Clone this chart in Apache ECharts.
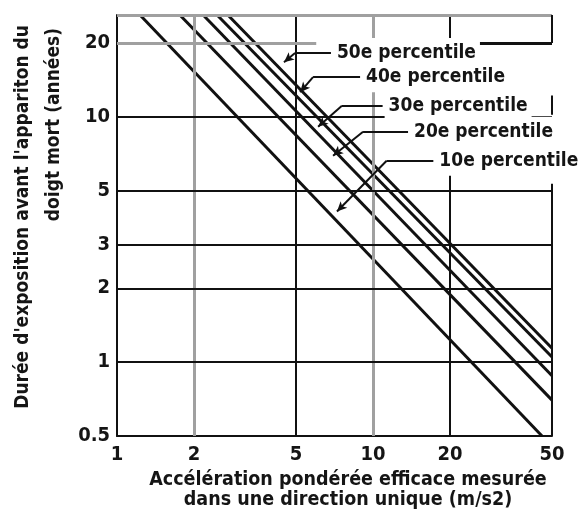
<!DOCTYPE html>
<html>
<head>
<meta charset="utf-8">
<script src="https://cdn.jsdelivr.net/npm/echarts@6/dist/echarts.min.js"></script>
<style>
  html, body { margin: 0; padding: 0; background: #fff; }
  #chart { width: 578px; height: 514px; }
</style>
</head>
<body>
<div id="chart"></div>
<script>
const FONT = '"DejaVu Sans Condensed", "Liberation Sans Narrow", "Arial Narrow", sans-serif';

// axes (log-log)
const xTicks = [1, 2, 5, 10, 20, 50];
const yTicks = [0.5, 1, 2, 3, 5, 10, 20];
const xRange = [1, 50];
const yRange = [0.5, 26];

// percentile lines: [acceleration, years] at both ends
const percentiles = ['10e percentile', '20e percentile', '30e percentile', '40e percentile', '50e percentile'];
const p10 = [[1.23, 26], [45.7, 0.5]];
const p20 = [[1.76, 26], [50, 0.70]];
const p30 = [[2.17, 26], [50, 0.88]];
const p40 = [[2.46, 26], [50, 1.05]];
const p50 = [[2.71, 26], [50, 1.14]];

// leader lines: arrow tip, elbow, label start (data coords)
const leaders = [
    { text: '10e percentile', tip: [7.23, 4.11], elbow: [11.3, 6.62], end: 17.2 },
    { text: '20e percentile', tip: [6.98, 6.94], elbow: [9.14, 8.69], end: 13.7 },
    { text: '30e percentile', tip: [6.10, 9.1], elbow: [7.56, 11.1], end: 10.9 },
    { text: '40e percentile', tip: [5.19, 12.6], elbow: [5.83, 14.5], end: 8.9 },
    { text: '50e percentile', tip: [4.49, 16.7], elbow: [4.96, 18.2], end: 6.85 }
];

const chart = echarts.init(document.getElementById('chart'));

const black = '#111';
const gray = '#a0a0a0';

function solid(color, width) {
    return { color: color, width: width, type: 'solid' };
}

const gridLines = [
    { xAxis: 2, lineStyle: solid(gray, 3) },
    { xAxis: 5, lineStyle: solid(black, 2) },
    { xAxis: 10, lineStyle: solid(gray, 3) },
    { xAxis: 20, lineStyle: solid(black, 2) },
    { yAxis: 1, lineStyle: solid(black, 2) },
    { yAxis: 2, lineStyle: solid(black, 2) },
    { yAxis: 3, lineStyle: solid(black, 2) },
    { yAxis: 5, lineStyle: solid(black, 2) },
    { yAxis: 10, lineStyle: solid(black, 2) },
    { yAxis: 26, lineStyle: solid(gray, 3) },
    [{ coord: [1, 20], lineStyle: solid(gray, 3) }, { coord: [6, 20] }],
    [{ coord: [25.7, 20], lineStyle: solid(black, 3) }, { coord: [50, 20] }],
    [{ coord: [50, 26], lineStyle: solid(black, 2) }, { coord: [50, 20] }],
    [{ coord: [50, 12.2], lineStyle: solid(black, 2) }, { coord: [50, 10.2] }],
    [{ coord: [50, 5.34], lineStyle: solid(black, 2) }, { coord: [50, 0.5] }]
];

const leaderLines = [];
leaders.forEach(function (d) {
    leaderLines.push([
        { coord: d.tip, symbol: 'arrow', symbolSize: [7, 10] },
        { coord: d.elbow, symbol: 'none' }
    ]);
    leaderLines.push([
        { coord: d.elbow, symbol: 'none' },
        {
            coord: [d.end, d.elbow[1]], symbol: 'none',
            label: {
                show: true, position: 'end', formatter: d.text, distance: 2,
                fontFamily: FONT, fontWeight: 'bold', fontSize: 19, color: '#151515',
                backgroundColor: '#fff', padding: [6, 4, 5, 4]
            }
        }
    ]);
});

function lineSeries(name, data) {
    return {
        name: name, type: 'line', data: data, z: 3,
        symbol: 'none', lineStyle: { color: black, width: 3 }
    };
}

const option = {
    animation: false,
    grid: { left: 117, right: 26, top: 15, bottom: 78 },
    xAxis: {
        type: 'log', min: xRange[0], max: xRange[1],
        axisLine: { show: true, lineStyle: { color: black, width: 2 } },
        axisTick: { show: false },
        splitLine: { show: false },
        minorSplitLine: { show: false },
        axisLabel: {
            customValues: xTicks, margin: 9,
            fontFamily: FONT, fontWeight: 'bold', fontSize: 20, color: '#151515'
        }
    },
    yAxis: {
        type: 'log', min: yRange[0], max: yRange[1],
        axisLine: { show: true, lineStyle: { color: black, width: 2 } },
        axisTick: { show: false },
        splitLine: { show: false },
        minorSplitLine: { show: false },
        axisLabel: {
            customValues: yTicks, margin: 7,
            fontFamily: FONT, fontWeight: 'bold', fontSize: 20, color: '#151515'
        }
    },
    graphic: [
        {
            type: 'text', x: 23, y: 25, rotation: Math.PI / 2,
            style: {
                text: "Durée d'exposition avant l'appariton du",
                font: 'bold 19px ' + FONT, fill: '#151515',
                align: 'right', verticalAlign: 'middle'
            }
        },
        {
            type: 'text', x: 54, y: 28, rotation: Math.PI / 2,
            style: {
                text: 'doigt mort (années)',
                font: 'bold 19px ' + FONT, fill: '#151515',
                align: 'right', verticalAlign: 'middle'
            }
        },
        {
            type: 'text', x: 348, y: 480,
            style: {
                text: 'Accélération pondérée efficace mesurée',
                font: 'bold 19.5px ' + FONT, fill: '#151515',
                align: 'center', verticalAlign: 'middle'
            }
        },
        {
            type: 'text', x: 348, y: 500,
            style: {
                text: 'dans une direction unique (m/s2)',
                font: 'bold 19.5px ' + FONT, fill: '#151515',
                align: 'center', verticalAlign: 'middle'
            }
        }
    ],
    series: [
        {
            name: 'grid', type: 'line', data: [], z: 1,
            markLine: {
                silent: true, symbol: 'none', animation: false,
                label: { show: false },
                data: gridLines
            }
        },
        lineSeries(percentiles[0], p10),
        lineSeries(percentiles[1], p20),
        lineSeries(percentiles[2], p30),
        lineSeries(percentiles[3], p40),
        lineSeries(percentiles[4], p50),
        {
            name: 'leaders', type: 'line', data: [], z: 4,
            markLine: {
                silent: true, symbol: 'none', animation: false,
                lineStyle: { color: black, width: 2, type: 'solid' },
                label: { show: false },
                data: leaderLines
            }
        }
    ]
};

chart.setOption(option);
window.addEventListener('resize', function () { chart.resize(); });
</script>
</body>
</html>
